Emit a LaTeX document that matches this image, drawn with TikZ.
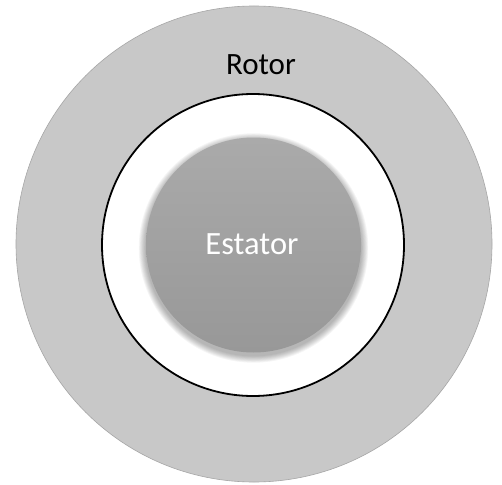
\documentclass[tikz,border=0pt]{standalone}
\usepackage{fontspec}
\setmainfont{Carlito}
\begin{document}
\begin{tikzpicture}[x=1pt,y=-1pt,
  rotorstyle/.style={circle, fill=rotorgray, draw=black!35, line width=0.6pt, minimum size=476pt, inner sep=0pt},
  gapstyle/.style={circle, fill=white, draw=black, line width=1.8pt, minimum size=302pt, inner sep=0pt},
  statorstyle/.style={circle, top color=statortop, bottom color=statorbot, minimum size=215pt, inner sep=0pt},
  lbl/.style={font=\fontsize{31}{36}\selectfont}]
\definecolor{rotorgray}{RGB}{200,200,200}
\definecolor{statortop}{RGB}{170,170,170}
\definecolor{statorbot}{RGB}{152,152,152}
\useasboundingbox (0,0) rectangle (502,484);
\fill[white] (0,0) rectangle (502,484);
\node[rotorstyle] (rotor) at (254,244) {};
\node[gapstyle] (gap) at (253,245) {};
\foreach \k in {1,...,8} {
  \fill[black, opacity=0.04] (253.5,248) circle ({107.5+\k*0.9});
}
\node[statorstyle] (stator) at (253.5,245) {};
\node[lbl, text=white, font=\fontsize{32.5}{38}\selectfont] (estator) at (252,244) {Estator};
\node[lbl, text=black] (rotorlbl) at (261,65) {Rotor};
\end{tikzpicture}
\end{document}
